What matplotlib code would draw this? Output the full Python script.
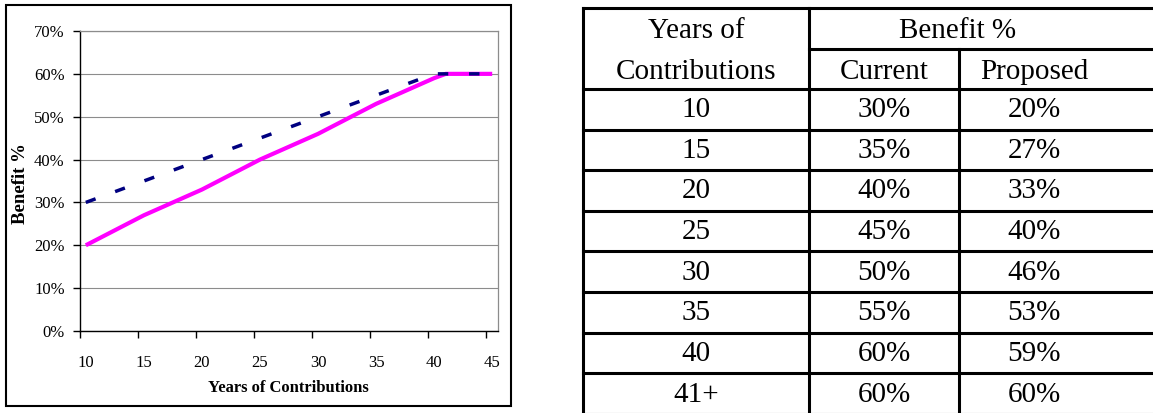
import numpy as np
import matplotlib
matplotlib.use('Agg')
from matplotlib import pyplot as pl
from matplotlib.patches import Rectangle

serif = 'Liberation Serif'
matplotlib.rcParams.update({'font.family': serif})

# benefit schedule, one value per year of contributions
years = list(range(10, 46))
current = [30, 31, 32, 33, 34, 35, 36, 37, 38, 39, 40, 41, 42, 43, 44, 45, 46, 47, 48, 49, 50,
           51, 52, 53, 54, 55, 56, 57, 58, 59, 60, 60, 60, 60, 60, 60]
proposed = [20, 21.4, 22.8, 24.2, 25.6, 27, 28.2, 29.4, 30.6, 31.8, 33, 34.4, 35.8, 37.2, 38.6,
            40, 41.2, 42.4, 43.6, 44.8, 46, 47.4, 48.8, 50.2, 51.6, 53, 54.2, 55.4, 56.6, 57.8,
            59, 60, 60, 60, 60, 60]

# summary table
tblYears = ['10', '15', '20', '25', '30', '35', '40', '41+']
tblCurrent = ['30%', '35%', '40%', '45%', '50%', '55%', '60%', '60%']
tblProposed = ['20%', '27%', '33%', '40%', '46%', '53%', '59%', '60%']

W, H = 1153, 413
fig = pl.figure(figsize=(W / 100, H / 100), dpi=100)

# ---- line chart ----
ax = fig.add_axes([80 / W, 1 - 331 / H, 418 / W, 300 / H])
ax.plot(years, proposed, color='#FF00FF', lw=3.0, zorder=3, solid_capstyle='butt')
ax.plot(years, current, color='#000080', lw=2.5, zorder=4, linestyle=(0, (3.0, 6.0)))

ax.set_xlim(9.5, 45.5)
ax.set_ylim(0, 70)
ax.set_yticks(range(0, 71, 10))
ax.set_yticklabels(['%d%%' % v for v in range(0, 71, 10)])
ax.set_xticks(range(10, 46, 5))
ax.set_xticks(np.arange(9.5, 45, 5), minor=True)
ax.tick_params(axis='x', which='major', length=0, pad=17, labelsize=12)
ax.tick_params(axis='x', which='minor', length=5, width=1, direction='out')
ax.tick_params(axis='y', length=5, width=1, direction='out', labelsize=12, pad=6)
ax.yaxis.grid(True, color='#8c8c8c', lw=0.8)
ax.set_axisbelow(True)
for s in ['top', 'right']:
  ax.spines[s].set_color('#8c8c8c')
  ax.spines[s].set_linewidth(0.9)
for s in ['left', 'bottom']:
  ax.spines[s].set_linewidth(1.0)

fig.text(288 / W, 1 - 388 / H, 'Years of Contributions', ha='center', va='center',
         fontsize=12, fontweight='bold')
fig.text(21 / W, 1 - 184 / H, 'Benefit %', ha='center', va='center', rotation=90,
         fontsize=13.5, fontweight='bold')

fig.patches.append(Rectangle((6 / W, 1 - 406 / H), 505 / W, 401 / H, transform=fig.transFigure,
                             fill=False, edgecolor='black', lw=1.5))

# ---- table ----
tx = fig.add_axes([0, 0, 1, 1])
tx.set_xlim(0, W)
tx.set_ylim(H, 0)
tx.axis('off')

left, c1, c2, right = 583, 809, 959, 1160
top, mid, hdr = 8, 49, 89
rowH = 40.6
lwT = 2.2
rowLines = [hdr + rowH * k for k in range(len(tblYears) + 1)]

tx.plot([left, left], [top, H + 5], color='black', lw=lwT)
tx.plot([c1, c1], [top, H + 5], color='black', lw=lwT)
tx.plot([c2, c2], [mid, H + 5], color='black', lw=lwT)
tx.plot([left, right], [top, top], color='black', lw=lwT)
tx.plot([c1, right], [mid, mid], color='black', lw=lwT)
for yl in rowLines:
  tx.plot([left, right], [yl, yl], color='black', lw=lwT)

fs = 21
tx.text(696, 31, 'Years of', ha='center', va='center', fontsize=fs)
tx.text(696, 72, 'Contributions', ha='center', va='center', fontsize=fs)
tx.text(958, 31, 'Benefit %', ha='center', va='center', fontsize=fs)
tx.text(884, 72, 'Current', ha='center', va='center', fontsize=fs)
tx.text(1034, 72, 'Proposed', ha='center', va='center', fontsize=fs)
for i in range(len(tblYears)):
  yc = hdr + rowH * i + rowH / 2 + 1
  tx.text(696, yc, tblYears[i], ha='center', va='center', fontsize=fs)
  tx.text(884, yc, tblCurrent[i], ha='center', va='center', fontsize=fs)
  tx.text(1034, yc, tblProposed[i], ha='center', va='center', fontsize=fs)

fig.savefig('out.png', dpi=100)
